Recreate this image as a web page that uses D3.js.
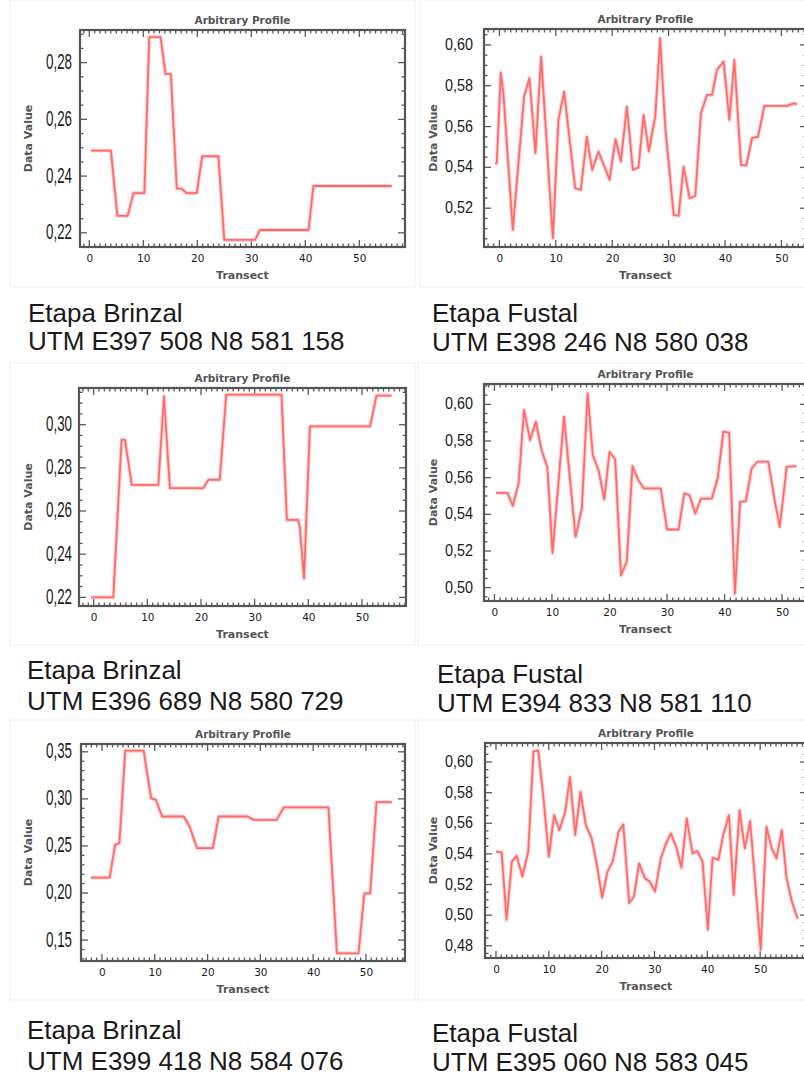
<!DOCTYPE html>
<html><head><meta charset="utf-8">
<script src="https://cdn.jsdelivr.net/npm/d3@7"></script>
<style>body{margin:0;background:#fff}svg{display:block}</style>
</head><body><svg id="c" width="804" height="1076"></svg>
<script>
// ---------- DATA ----------
const xTicks = [0, 10, 20, 30, 40, 50];

const p1X = [0.3,4,5.2,7.1,8.2,10.2,11.1,13.2,14.1,15.1,16.2,17.1,18,19.9,20.9,23.9,25,30.7,31.6,40.6,41.5,56];
const p1Y = [0.249,0.249,0.226,0.226,0.234,0.234,0.289,0.289,0.276,0.276,0.2356,0.2356,0.234,0.234,0.247,0.247,0.2175,0.2175,0.221,0.221,0.2365,0.2365];
const p1YTicks = [0.22, 0.24, 0.26, 0.28];

const p2X = [-0.77,-0.47,0.24,0.71,2.37,4.38,5.33,6.39,7.4,9.47,10.47,11.48,13.43,14.44,15.5,16.45,17.57,19.53,20.59,21.54,22.6,23.67,24.67,25.56,26.5,27.63,28.5,29.4,30.9,31.78,32.66,33.73,34.73,35.74,36.8,37.7,38.58,39.76,40.77,41.66,42.84,43.79,44.79,45.86,46.98,51,52.2,52.8];
const p2Y = [0.542,0.542,0.5864,0.5763,0.5094,0.5747,0.5837,0.547,0.5943,0.5053,0.5633,0.5771,0.5298,0.529,0.555,0.5388,0.5478,0.5339,0.5538,0.5429,0.5698,0.5388,0.540,0.5657,0.5478,0.565,0.6033,0.56,0.5167,0.5163,0.5404,0.5249,0.526,0.5665,0.5755,0.5755,0.5878,0.5918,0.5633,0.5927,0.5412,0.541,0.5543,0.5551,0.5701,0.5701,0.5714,0.571];
const p2YTicks = [0.52, 0.54, 0.56, 0.58, 0.60];

const p3X = [-0.5,3.66,5.2,5.84,7.1,12.05,13.1,14.2,20.4,21.4,23.5,24.7,35.0,36.0,38.1,38.4,39.2,40.3,51.5,52.7,55.5];
const p3Y = [0.22,0.22,0.293,0.293,0.2721,0.2721,0.3132,0.2706,0.2706,0.2745,0.2745,0.3139,0.3139,0.2559,0.2559,0.2528,0.2288,0.2992,0.2992,0.3135,0.3135];
const p3YTicks = [0.22, 0.24, 0.26, 0.28, 0.30];

const p4X = [0.28,2.26,3.2,4.2,5.15,6.2,7.2,8.2,9.2,10.1,12.1,14.1,15.2,16.2,17.1,18.1,19.1,20,21,22,23,24,25,26,28.9,30,32,33,33.9,34.9,35.9,37.8,38.8,39.8,40.8,41.8,42.7,43.7,44.7,45.7,47.6,48.8,49.6,50.8,52.5];
const p4Y = [0.5517,0.5517,0.5446,0.5568,0.5969,0.5805,0.5905,0.575,0.5656,0.5189,0.5933,0.5277,0.5432,0.606,0.5723,0.5641,0.5481,0.5741,0.5699,0.5067,0.514,0.5663,0.5587,0.5541,0.5541,0.5317,0.5317,0.5514,0.5505,0.5404,0.5486,0.5486,0.5596,0.5851,0.5845,0.4967,0.5468,0.5472,0.565,0.5687,0.5687,0.5459,0.5332,0.5659,0.5663];
const p4YTicks = [0.50, 0.52, 0.54, 0.56, 0.58, 0.60];

const p5X = [-2.1,1.45,2.5,3.3,4.4,7.9,9.3,10.2,11.4,15.5,16.6,18,21,22.1,27.6,28.7,33.1,34.4,42.9,44.5,48.6,49.7,50.8,52,54.9];
const p5Y = [0.2164,0.2164,0.2511,0.2529,0.3512,0.3512,0.3008,0.299,0.2813,0.2813,0.2707,0.2476,0.2476,0.2813,0.2813,0.2777,0.2777,0.2909,0.2909,0.1359,0.1359,0.1997,0.1997,0.2965,0.2965];
const p5YTicks = [0.15, 0.20, 0.25, 0.30, 0.35];

const p6X = [0,1.07,2,3,3.9,5,6.1,7.1,8,9,10,11,12,13.1,14,15,16,17,18.1,19.1,20.1,21.1,22.1,23.2,24.1,25.2,26.1,27.1,28.2,29.1,30.1,31.2,32.2,33.1,34.2,35.1,36.1,37.2,38.1,39.1,40.1,41,42.1,43,44.1,45,46.1,47.1,48.1,49.1,50.1,51.2,52.2,53.1,54.1,55,56,57.1];
const p6Y = [0.5414,0.541,0.497,0.5349,0.5388,0.5252,0.5414,0.6069,0.6076,0.576,0.5382,0.5653,0.5555,0.5675,0.5902,0.5523,0.5805,0.5588,0.5501,0.5327,0.5115,0.5284,0.5349,0.5544,0.5592,0.5078,0.5121,0.5338,0.5241,0.5219,0.5154,0.5371,0.5469,0.5534,0.5436,0.531,0.5631,0.5403,0.5419,0.5349,0.4905,0.5375,0.536,0.5523,0.5653,0.5132,0.5685,0.5436,0.5614,0.5197,0.4775,0.5577,0.5436,0.5371,0.5555,0.5241,0.5089,0.4976];
const p6YTicks = [0.48, 0.50, 0.52, 0.54, 0.56, 0.58, 0.60];

const chartTitle = "Arbitrary Profile";
const yTitle = "Data Value";
const xTitle = "Transect";
const captionStage = ["Etapa Brinzal","Etapa Fustal","Etapa Brinzal","Etapa Fustal","Etapa Brinzal","Etapa Fustal"];
const captionUTM = ["UTM E397 508 N8 581 158","UTM E398 246 N8 580 038","UTM E396 689 N8 580 729","UTM E394 833 N8 581 110","UTM E399 418 N8 584 076","UTM E395 060 N8 583 045"];

// ---------- LAYOUT ----------
const L = {end:72, size:22, len:26, dataX:28};
const R = {end:473, size:17, len:28, dataX:433};
const panels = [
  {xs:p1X, ys:p1Y, yt:p1YTicks, ystep:0.005, f:[80,30,405,247],  xd:[-1.72,58.46], yd:[0.2150,0.2915], card:[10,0,405,287],   lab:L, cap:[28,321.7,350]},
  {xs:p2X, ys:p2Y, yt:p2YTicks, ystep:0.005, f:[484,29,807,247], xd:[-2.73,54.54], yd:[0.5010,0.6078], card:[420,0,400,287],  lab:R, cap:[432,322,351]},
  {xs:p3X, ys:p3Y, yt:p3YTicks, ystep:0.005, f:[79,388,406,606], xd:[-2.73,58.2],  yd:[0.2160,0.3170], card:[10,363,405,282], lab:L, cap:[27,678.5,709.5]},
  {xs:p4X, ys:p4Y, yt:p4YTicks, ystep:0.005, f:[484,384,807,601],xd:[-1.81,54.33], yd:[0.4927,0.6111], card:[418,363,400,282],lab:R, cap:[437,683,712]},
  {xs:p5X, ys:p5Y, yt:p5YTicks, ystep:0.01,  f:[81,744,405,961], xd:[-3.97,57.4],  yd:[0.1278,0.3583], card:[10,720,405,280], lab:L, cap:[27,1039,1070]},
  {xs:p6X, ys:p6Y, yt:p6YTicks, ystep:0.005, f:[485,743,807,958],xd:[-2.08,58.87], yd:[0.4720,0.6124], card:[418,720,400,280],lab:R, cap:[432,1041.5,1070.5]}
];

const svg = d3.select("#c");
const fmtY = v => d3.format(".2f")(v).replace(".", ",");

panels.forEach(p => {
  const [x0,y0,x1,y1] = p.f;
  const g = svg.append("g");
  g.append("rect").attr("x",p.card[0]).attr("y",p.card[1]).attr("width",p.card[2]).attr("height",p.card[3])
    .attr("fill","#fff").attr("stroke","#efefef").attr("stroke-width",1);

  const x = d3.scaleLinear().domain(p.xd).range([x0,x1]);
  const y = d3.scaleLinear().domain(p.yd).range([y1,y0]);

  // minor & major ticks along frame
  const tk = g.append("g").attr("stroke","#5a5a5a").attr("stroke-width",1.3);
  const xMin = d3.range(Math.ceil(p.xd[0]), Math.floor(p.xd[1])+1);
  xMin.forEach(v => {
    const len = (v % 10 === 0) ? 7 : 3.5;
    const px = x(v);
    tk.append("line").attr("x1",px).attr("x2",px).attr("y1",y1).attr("y2",y1-len);
    tk.append("line").attr("x1",px).attr("x2",px).attr("y1",y0).attr("y2",y0+len);
  });
  const yMin = d3.range(Math.ceil(p.yd[0]/p.ystep), Math.floor(p.yd[1]/p.ystep)+1).map(k => k*p.ystep);
  yMin.forEach(v => {
    const major = p.yt.some(t => Math.abs(t - v) < 1e-6);
    const len = major ? 7 : 3.5;
    const py = y(v);
    tk.append("line").attr("y1",py).attr("y2",py).attr("x1",x0).attr("x2",x0+len);
    tk.append("line").attr("y1",py).attr("y2",py).attr("x1",x1).attr("x2",x1-len);
  });

  // profile line
  const pts = p.xs.map((v,i) => [v, p.ys[i]]);
  const line = d3.line().x(d => x(d[0])).y(d => y(d[1]));
  g.append("path").datum(pts).attr("d",line).attr("fill","none")
    .attr("stroke","#ffb3b3").attr("stroke-width",4).attr("stroke-linejoin","round").attr("opacity",0.6);
  g.append("path").datum(pts).attr("d",line).attr("fill","none")
    .attr("stroke","#ff6b6b").attr("stroke-width",1.8).attr("stroke-linejoin","round");

  // frame
  g.append("rect").attr("x",x0).attr("y",y0).attr("width",x1-x0).attr("height",y1-y0)
    .attr("fill","none").attr("stroke","#555").attr("stroke-width",2.2);

  // x tick labels
  const xAxis = d3.axisBottom(x).tickValues(xTicks).tickSize(0).tickPadding(0).tickFormat(d3.format("d"));
  const ax = g.append("g").attr("transform",`translate(0,${y1})`).call(xAxis);
  ax.select(".domain").remove();
  ax.selectAll("text").attr("y",15).attr("dy",null)
    .attr("font-family","DejaVu Sans").attr("font-size",10.5).attr("fill","#1a1a1a");

  // y tick labels
  const yAxis = d3.axisLeft(y).tickValues(p.yt).tickSize(0).tickPadding(0).tickFormat(fmtY);
  const ay = g.append("g").attr("transform",`translate(${p.lab.end},0)`).call(yAxis);
  ay.select(".domain").remove();
  ay.selectAll("text").attr("x",0).attr("dy",null).attr("y", p.lab.size*0.27)
    .attr("font-family","Liberation Sans").attr("font-size",p.lab.size).attr("fill","#1a1a1a")
    .attr("textLength",p.lab.len).attr("lengthAdjust","spacingAndGlyphs");

  // titles
  g.append("text").attr("x",(x0+x1)/2).attr("y",y0-6).attr("text-anchor","middle")
    .attr("font-family","DejaVu Sans").attr("font-weight","bold").attr("font-size",10.5).attr("fill","#555")
    .text(chartTitle);
  g.append("text").attr("x",(x0+x1)/2).attr("y",y1+31.5).attr("text-anchor","middle")
    .attr("font-family","DejaVu Sans").attr("font-weight","bold").attr("font-size",11).attr("fill","#555")
    .text(xTitle);
  g.append("text").attr("transform",`translate(${p.lab.dataX+4},${(y0+y1)/2}) rotate(-90)`).attr("text-anchor","middle")
    .attr("font-family","DejaVu Sans").attr("font-weight","bold").attr("font-size",11).attr("fill","#555")
    .text(yTitle);
});

// captions
panels.forEach((p,i) => {
  const [cx,cy1,cy2] = p.cap;
  svg.append("text").attr("x",cx).attr("y",cy1).attr("font-family","Liberation Sans").attr("font-size",26)
    .attr("fill","#1a1a1a").text(captionStage[i]);
  svg.append("text").attr("x",cx).attr("y",cy2).attr("font-family","Liberation Sans").attr("font-size",26)
    .attr("fill","#1a1a1a").text(captionUTM[i]);
});
</script>
</body></html>
